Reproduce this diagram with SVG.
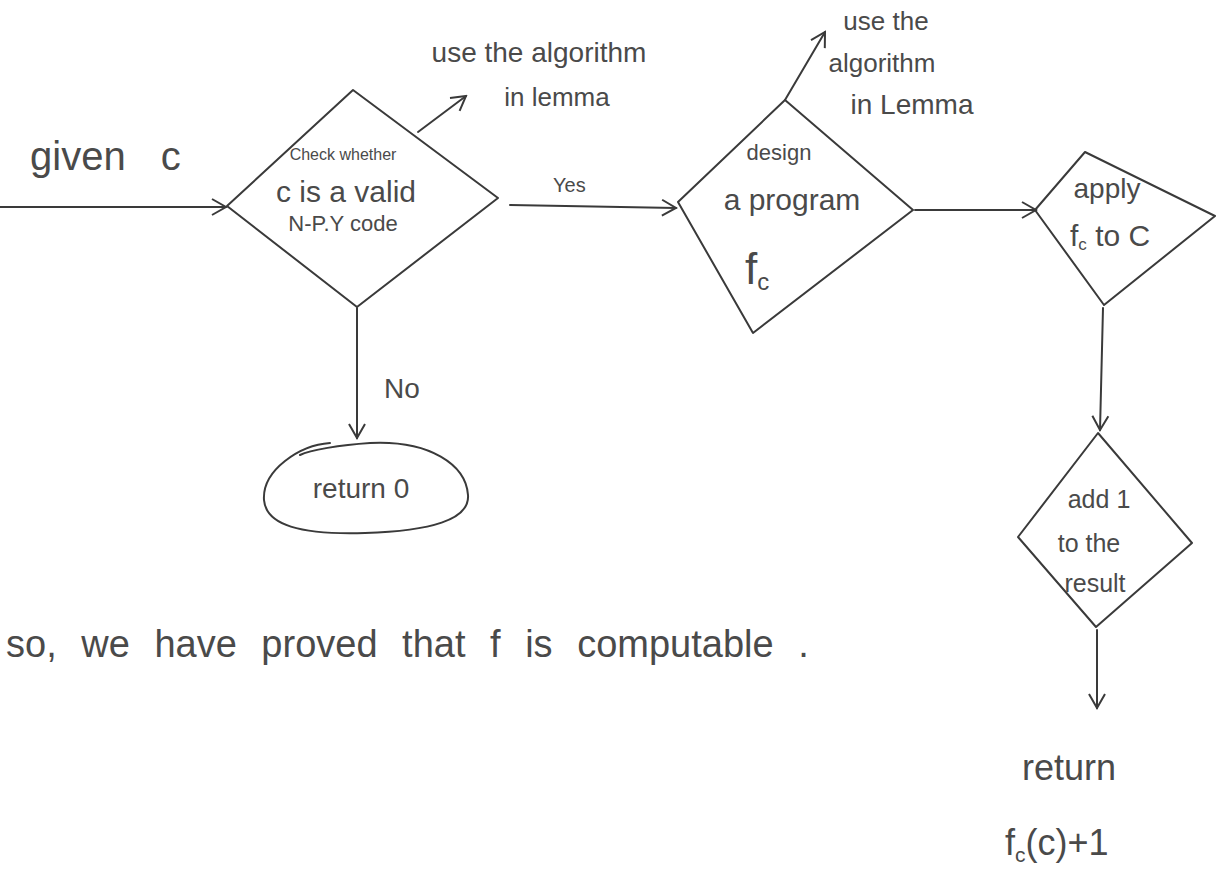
<svg xmlns="http://www.w3.org/2000/svg" width="1219" height="882" viewBox="0 0 1219 882">
<style>
.s{fill:none;stroke:#3a3a3a;stroke-width:2;stroke-linecap:round;stroke-linejoin:round}
.t{font-family:"Liberation Sans","DejaVu Sans",sans-serif;fill:#4a4a4a}
.m{text-anchor:middle}
</style>
<defs>
<marker id="ah" viewBox="0 0 20 20" refX="18" refY="10" markerWidth="20" markerHeight="20" markerUnits="userSpaceOnUse" orient="auto">
<path d="M4,2 L18,10 L4,18" fill="none" stroke="#3a3a3a" stroke-width="2"/>
</marker>
</defs>
<rect width="1219" height="882" fill="#ffffff"/>
<g id="connectors">
<path class="s" d="M0,207 L226,207" marker-end="url(#ah)"/>
<path class="s" d="M510,205 L676,208" marker-end="url(#ah)"/>
<path class="s" d="M915,210 L1036,210" marker-end="url(#ah)"/>
<path class="s" d="M357,308 L357,438" marker-end="url(#ah)"/>
<path class="s" d="M1103,308 L1100,430" marker-end="url(#ah)"/>
<path class="s" d="M1097,630 L1097,708" marker-end="url(#ah)"/>
<path class="s" d="M418,132 L466,96" marker-end="url(#ah)"/>
<path class="s" d="M785,100 L825,32" marker-end="url(#ah)"/>
<text class="t" x="553" y="192" font-size="20">Yes</text>
<text class="t" x="384" y="398" font-size="28">No</text>
</g>
<g id="start">
<text class="t" x="30" y="170" font-size="40" word-spacing="24">given c</text>
</g>
<g id="check">
<path class="s" d="M353,90 L498,198 L357,307 L227,206 Z"/>
<text class="t m" x="343" y="160" font-size="16">Check whether</text>
<text class="t m" x="346" y="202" font-size="30">c is a valid</text>
<text class="t m" x="343" y="231" font-size="22">N-P.Y code</text>
</g>
<g id="note1">
<text class="t m" x="539" y="62" font-size="28">use the algorithm</text>
<text class="t m" x="557" y="106" font-size="26">in lemma</text>
</g>
<g id="design">
<path class="s" d="M785,100 L913,210 L753,333 L678,202 Z"/>
<text class="t m" x="779" y="160" font-size="22">design</text>
<text class="t m" x="792" y="210" font-size="30">a program</text>
<text class="t" x="745" y="284" font-size="44">f<tspan font-size="24" dy="6">c</tspan></text>
</g>
<g id="note2">
<text class="t m" x="886" y="30" font-size="26">use the</text>
<text class="t m" x="882" y="72" font-size="26">algorithm</text>
<text class="t m" x="912" y="114" font-size="28">in Lemma</text>
</g>
<g id="apply">
<path class="s" d="M1085,152 L1215,216 L1104,305 L1035,210 Z"/>
<text class="t m" x="1107" y="198" font-size="28">apply</text>
<text class="t" x="1070" y="246" font-size="30">f<tspan font-size="17" dy="4">c</tspan><tspan dy="-4"> to C</tspan></text>
</g>
<g id="add">
<path class="s" d="M1098,433 L1192,543 L1096,627 L1018,537 Z"/>
<text class="t m" x="1099" y="508" font-size="25">add 1</text>
<text class="t m" x="1089" y="552" font-size="25">to the</text>
<text class="t m" x="1095" y="592" font-size="25">result</text>
</g>
<g id="return0">
<path class="s" d="M330,443 C 300,445 262,470 264,500 C 266,525 300,535 365,533 C 430,531 470,520 468,495 C 466,465 430,440 370,443 C 340,445 310,450 300,455"/>
<text class="t m" x="361" y="498" font-size="28">return 0</text>
</g>
<g id="return1">
<text class="t m" x="1069" y="780" font-size="36">return</text>
<text class="t" x="1005" y="855" font-size="36">f<tspan font-size="21" dy="7">c</tspan><tspan dy="-7">(c)+1</tspan></text>
</g>
<g id="conclusion">
<text class="t" x="6" y="657" font-size="38" word-spacing="14">so, we have proved that  f is computable .</text>
</g>
</svg>
